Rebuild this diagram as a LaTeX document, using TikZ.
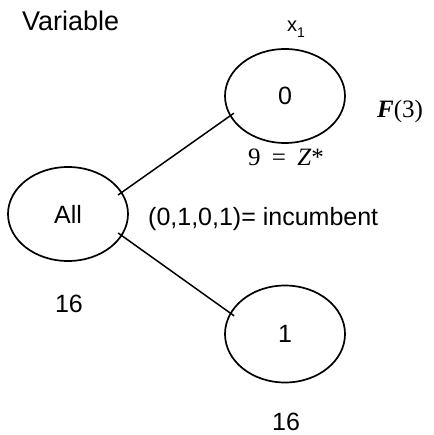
\documentclass[tikz,border=0pt]{standalone}
\usepackage{fontspec}
\setmainfont{Liberation Sans}
\newfontfamily\serifo{Liberation Serif}
\usetikzlibrary{shapes.geometric}
\begin{document}
\begin{tikzpicture}[x=1pt,y=-1pt,
  bubble/.style={draw, ellipse, line width=1.7pt, minimum width=120pt, minimum height=94pt, inner sep=0pt,
    font=\fontsize{25}{28}\selectfont},
  lbl/.style={inner sep=0pt, font=\fontsize{25}{28}\selectfont},
  edge/.style={line width=1.5pt, shorten <=-5pt, shorten >=-5pt}]
\useasboundingbox (0,0) rectangle (433,435);
\node[bubble] (top) at (285,96) {0};
\node[bubble] (all) at (68,214) {All};
\node[bubble, minimum height=97pt] (bot) at (285,334) {1};
\node[lbl, anchor=base west, font=\fontsize{27}{30}\selectfont] (var) at (22,31) {Variable};
\node[inner sep=0pt, anchor=base west, font=\fontsize{20}{24}\selectfont] (x1) at (287,32) {x\raisebox{-6pt}{\fontsize{14}{16}\selectfont 1}};
\node[lbl, anchor=base west, font=\fontsize{25}{28}\serifo] (f3) at (377,118) {\textbf{\textit{F}}(3)};
\node[lbl, anchor=base west, font=\fontsize{25}{28}\serifo] (z) at (248,166) {9\hspace{5pt} = \hspace{5pt}\textit{Z}*};
\node[lbl, anchor=base west] (inc) at (148,225) {(0,1,0,1)= incumbent};
\node[lbl, anchor=base] (s1) at (69,312) {16};
\node[lbl, anchor=base] (s2) at (286,430) {16};
\draw[edge] (all.22) -- (top.200);
\draw[edge] (all.-22) -- (bot.159);
\end{tikzpicture}
\end{document}
